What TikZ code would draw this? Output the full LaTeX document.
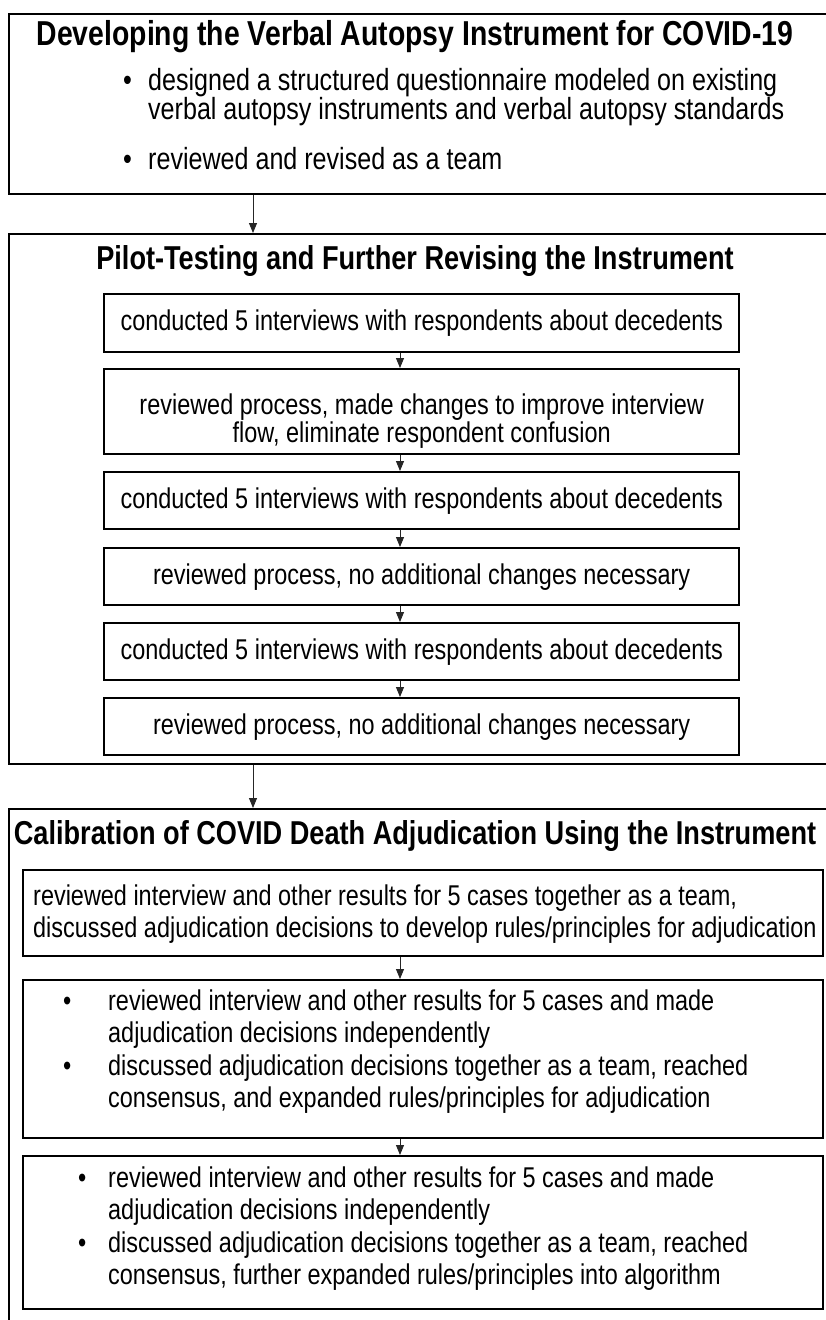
\documentclass[tikz,border=0pt]{standalone}
\usepackage{fontspec}
\setmainfont{Liberation Sans}[FakeStretch=0.82]
\usetikzlibrary{arrows.meta}
\newcommand{\bodyfont}{\fontsize{28.6pt}{28pt}\selectfont}
\newcommand{\bodyfontA}{\fontsize{30.6pt}{25pt}\selectfont}
\newcommand{\bodyfontwide}{\fontsize{28.6pt}{32.5pt}\selectfont}
\newcommand{\titlefont}{\fontsize{33.1pt}{34pt}\selectfont\bfseries}
\newcommand{\titlefontA}{\fontsize{34.6pt}{36pt}\selectfont\bfseries}
\begin{document}
\begin{tikzpicture}[x=1pt,y=-1pt,
  outerbox/.style={draw=black, line width=2.2pt, inner sep=0pt, anchor=north west},
  inbox/.style={draw=black, line width=2.4pt, inner sep=0pt, anchor=north west},
  lbl/.style={inner sep=0pt, font=\bodyfont},
  ttl/.style={inner sep=0pt, font=\titlefont},
  arr/.style={-{Triangle[length=10pt,width=8pt]}, line width=0.9pt, draw=black!85}]
\useasboundingbox (0,0) rectangle (826,1320);
\clip (0,0) rectangle (826,1320);
\fill[white] (0,0) rectangle (826,1320);

% ---------- box 1 ----------
\node[outerbox, minimum width=830pt, minimum height=180pt] (b1) at (8,13) {};
\node[ttl, font=\titlefontA] (t1) at (415,37) {Developing the Verbal Autopsy Instrument for COVID-19};
\node[lbl, anchor=base west] (l1) at (123,90) {\bodyfontA
  \begin{tabular}[t]{@{}p{25pt}@{}l@{}}
  \textbullet & designed a structured questionnaire modeled on existing\\
              & verbal autopsy instruments and verbal autopsy standards\\[20pt]
  \textbullet & reviewed and revised as a team
  \end{tabular}};

% ---------- box 2 ----------
\node[outerbox, minimum width=830pt, minimum height=530pt] (b2) at (8,233) {};
\node[ttl] (t2) at (415,261) {Pilot-Testing and Further Revising the Instrument};
\node[inbox, minimum width=635pt, minimum height=58pt] (a) at (103,293) {};
\node[lbl] at (a.center) {conducted 5 interviews with respondents about decedents};
\node[inbox, minimum width=635pt, minimum height=85pt] (b) at (103,368) {};
\node[lbl, align=center] at ([yshift=-9pt]b.center) {reviewed process, made changes to improve interview\\flow, eliminate respondent confusion};
\node[inbox, minimum width=635pt, minimum height=57pt] (c) at (103,471) {};
\node[lbl] at (c.center) {conducted 5 interviews with respondents about decedents};
\node[inbox, minimum width=635pt, minimum height=57pt] (d) at (103,547) {};
\node[lbl] at (d.center) {reviewed process, no additional changes necessary};
\node[inbox, minimum width=635pt, minimum height=57pt] (e) at (103,622) {};
\node[lbl] at (e.center) {conducted 5 interviews with respondents about decedents};
\node[inbox, minimum width=635pt, minimum height=57pt] (f) at (103,697) {};
\node[lbl] at (f.center) {reviewed process, no additional changes necessary};

% ---------- box 3 ----------
\node[outerbox, minimum width=830pt, minimum height=530pt] (b3) at (8,808) {};
\node[ttl] (t3) at (415,836) {Calibration of COVID Death Adjudication Using the Instrument};
\node[inbox, minimum width=800pt, minimum height=86pt] (g) at (22,869) {};
\node[lbl, anchor=base west] at (33,905) {\bodyfontwide
  \begin{tabular}[t]{@{}l@{}}
  reviewed interview and other results for 5 cases together as a team,\\
  discussed adjudication decisions to develop rules/principles for adjudication
  \end{tabular}};
\node[inbox, minimum width=800pt, minimum height=158pt] (h) at (22,979) {};
\node[lbl, anchor=base west] at (63,1010) {\bodyfontwide
  \begin{tabular}[t]{@{}p{45pt}@{}l@{}}
  \textbullet & reviewed interview and other results for 5 cases and made\\
              & adjudication decisions independently\\
  \textbullet & discussed adjudication decisions together as a team, reached\\
              & consensus, and expanded rules/principles for adjudication
  \end{tabular}};
\node[inbox, minimum width=800pt, minimum height=153pt] (i) at (22,1155) {};
\node[lbl, anchor=base west] at (78,1187) {\bodyfontwide
  \begin{tabular}[t]{@{}p{30pt}@{}l@{}}
  \textbullet & reviewed interview and other results for 5 cases and made\\
              & adjudication decisions independently\\
  \textbullet & discussed adjudication decisions together as a team, reached\\
              & consensus, further expanded rules/principles into algorithm
  \end{tabular}};

% ---------- connectors ----------
\draw[arr] (b1.south -| 253,0) -- (b2.north -| 253,0);
\draw[arr] (b2.south -| 253,0) -- (b3.north -| 253,0);
\draw[arr] (a.south -| 400,0) -- (b.north -| 400,0);
\draw[arr] (b.south -| 400,0) -- (c.north -| 400,0);
\draw[arr] (c.south -| 400,0) -- (d.north -| 400,0);
\draw[arr] (d.south -| 400,0) -- (e.north -| 400,0);
\draw[arr] (e.south -| 400,0) -- (f.north -| 400,0);
\draw[arr] (g.south -| 400,0) -- (h.north -| 400,0);
\draw[arr] (h.south -| 400,0) -- (i.north -| 400,0);
\end{tikzpicture}
\end{document}
